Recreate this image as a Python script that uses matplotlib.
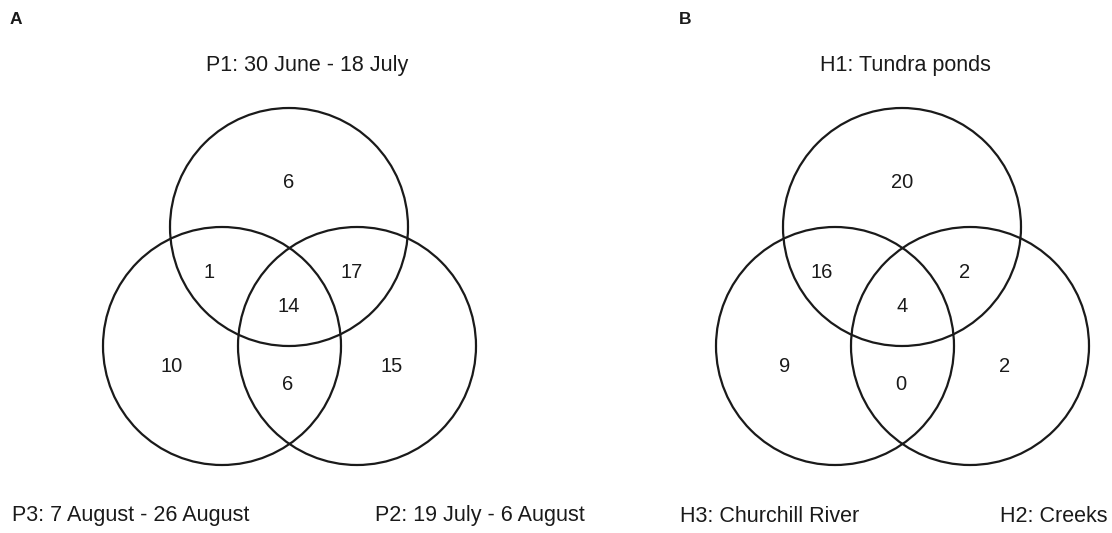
import matplotlib.pyplot as plt
from matplotlib.patches import Circle

# Species counts per Venn region
# order: only top, top+left, top+right, all three, only left, left+right, only right
period_counts = [6, 1, 17, 14, 10, 6, 15]
habitat_counts = [20, 16, 2, 4, 9, 0, 2]

period_labels = ["P1: 30 June - 18 July", "P3: 7 August - 26 August", "P2: 19 July - 6 August"]
habitat_labels = ["H1: Tundra ponds", "H3: Churchill River", "H2: Creeks"]
panel_letters = ["A", "B"]

plt.rcParams["font.family"] = ["Liberation Sans", "DejaVu Sans"]

fig = plt.figure(figsize=(11.12, 5.33), dpi=100)
ax = fig.add_axes([0, 0, 1, 1])
ax.set_xlim(0, 1112)
ax.set_ylim(533, 0)
ax.set_aspect("equal")
ax.axis("off")

radius = 119
line_color = "#1a1a1a"
label_size = 15.5


def draw_venn(x0, counts, labels, letter, label_x):
    """
    Draws one three-circle Venn diagram with its set labels
    """
    # circle centres: top, bottom-left, bottom-right
    centres = [(x0 + 67, 227), (x0, 346), (x0 + 135, 346)]
    for cx, cy in centres:
        ax.add_patch(Circle((cx, cy), radius, fill=False, lw=1.6, ec=line_color))

    # spots for the numbers in each region
    spots = [(x0 + 67, 183), (x0 - 13, 272), (x0 + 130, 272), (x0 + 67, 307),
             (x0 - 50, 367), (x0 + 66, 385), (x0 + 170, 367)]
    for (tx, ty), n in zip(spots, counts):
        ax.text(tx, ty, str(n), ha="center", va="center", fontsize=14.5, color=line_color)

    ax.text(label_x[0], 20, letter, ha="left", va="center", fontsize=12.5, fontweight="bold", color=line_color)
    ax.text(label_x[1], 66, labels[0], ha="left", va="center", fontsize=label_size, color=line_color)
    ax.text(label_x[2], 516, labels[1], ha="left", va="center", fontsize=label_size, color=line_color)
    ax.text(label_x[3], 516, labels[2], ha="left", va="center", fontsize=label_size, color=line_color)


draw_venn(222, period_counts, period_labels, panel_letters[0], [10, 206, 12, 375])
draw_venn(835, habitat_counts, habitat_labels, panel_letters[1], [679, 820, 680, 1000])

plt.savefig("out.png", dpi=100)
